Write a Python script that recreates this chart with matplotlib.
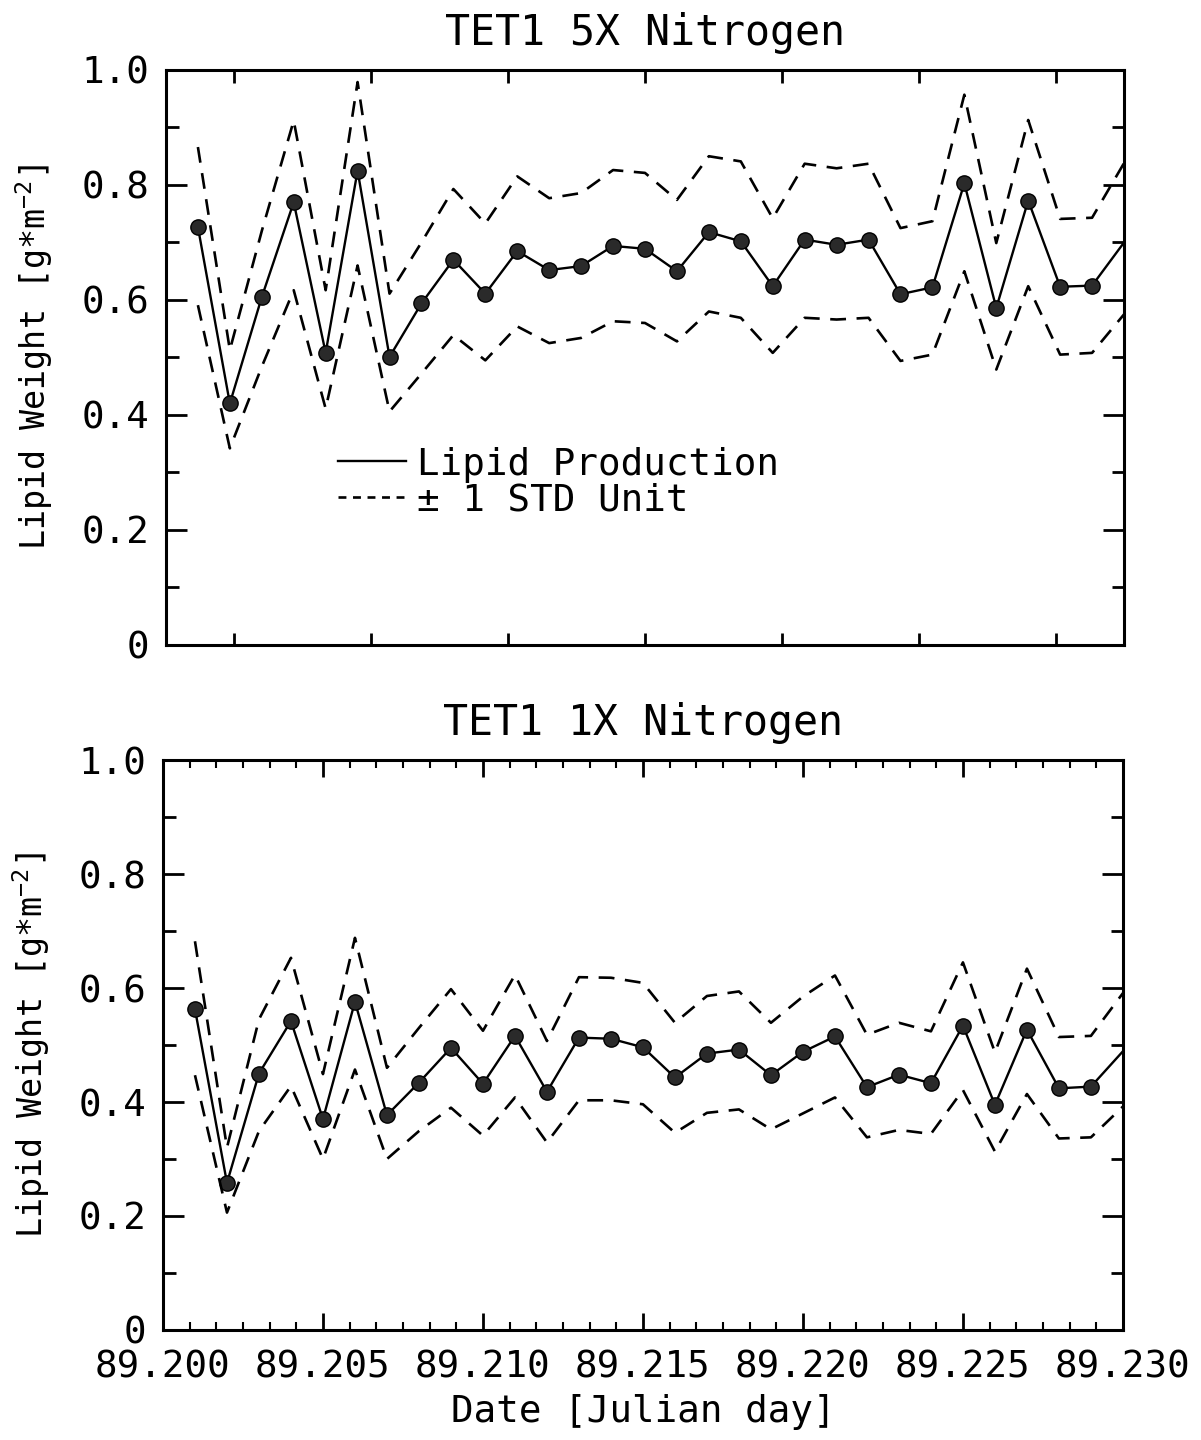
import numpy as np
import matplotlib.pyplot as plt
from matplotlib.lines import Line2D
from matplotlib.ticker import FixedLocator, MultipleLocator

plt.rcParams['font.family'] = ['DejaVu Sans Mono', 'DejaVu Sans']
plt.rcParams['mathtext.fontset'] = 'custom'
plt.rcParams['mathtext.rm'] = 'DejaVu Sans Mono'
plt.rcParams['mathtext.it'] = 'DejaVu Sans Mono'
plt.rcParams['mathtext.default'] = 'rm'

# дата (юлианский день)
day = [89.201, 89.202, 89.203, 89.204, 89.205, 89.206, 89.207, 89.208, 89.209, 89.210,
       89.211, 89.212, 89.213, 89.214, 89.215, 89.216, 89.217, 89.218, 89.219, 89.220,
       89.221, 89.222, 89.223, 89.224, 89.225, 89.226, 89.227, 89.228, 89.229, 89.230]

# TET1 5X
lip5 = [0.727, 0.420, 0.605, 0.770, 0.508, 0.825, 0.501, 0.594, 0.670, 0.611,
        0.685, 0.652, 0.659, 0.694, 0.689, 0.650, 0.718, 0.702, 0.624, 0.705,
        0.696, 0.705, 0.610, 0.622, 0.803, 0.586, 0.773, 0.623, 0.625, 0.700]
up5 = [0.866, 0.513, 0.720, 0.912, 0.617, 0.979, 0.611, 0.700, 0.793, 0.733,
       0.815, 0.777, 0.786, 0.826, 0.821, 0.774, 0.850, 0.841, 0.742, 0.837,
       0.829, 0.837, 0.725, 0.737, 0.957, 0.699, 0.913, 0.741, 0.743, 0.838]
lo5 = [0.591, 0.342, 0.484, 0.617, 0.411, 0.660, 0.406, 0.472, 0.539, 0.495,
       0.554, 0.525, 0.534, 0.563, 0.560, 0.528, 0.580, 0.569, 0.508, 0.569,
       0.566, 0.569, 0.494, 0.505, 0.650, 0.479, 0.624, 0.505, 0.508, 0.575]

# TET1 1X
lip1 = [0.563, 0.258, 0.450, 0.542, 0.370, 0.576, 0.377, 0.434, 0.495, 0.432,
        0.516, 0.418, 0.513, 0.511, 0.496, 0.443, 0.485, 0.492, 0.447, 0.488,
        0.515, 0.426, 0.448, 0.433, 0.534, 0.395, 0.527, 0.424, 0.427, 0.489]
up1 = [0.682, 0.320, 0.545, 0.653, 0.449, 0.688, 0.460, 0.530, 0.598, 0.525,
       0.623, 0.507, 0.619, 0.618, 0.609, 0.539, 0.586, 0.594, 0.539, 0.585,
       0.622, 0.518, 0.539, 0.524, 0.645, 0.487, 0.634, 0.514, 0.516, 0.591]
lo1 = [0.447, 0.206, 0.349, 0.428, 0.300, 0.457, 0.300, 0.349, 0.390, 0.341,
       0.408, 0.329, 0.403, 0.403, 0.396, 0.346, 0.381, 0.387, 0.352, 0.380,
       0.408, 0.338, 0.351, 0.344, 0.421, 0.313, 0.414, 0.336, 0.338, 0.392]

yticks = [0, 0.2, 0.4, 0.6, 0.8, 1.0]
ytick_labels = ['0', '0.2', '0.4', '0.6', '0.8', '1.0']
xticks = [89.200, 89.205, 89.210, 89.215, 89.220, 89.225, 89.230]
xtick_labels = ['89.200', '89.205', '89.210', '89.215', '89.220', '89.225', '89.230']

fig = plt.figure(figsize=(12.01, 14.4), dpi=100)
ax1 = fig.add_axes([0.1382, 0.5521, 0.7977, 0.3993])
ax2 = fig.add_axes([0.1357, 0.0764, 0.7993, 0.3958])

def panel(ax, lip, up, lo, title):
    ax.plot(day, lip, color='black', lw=1.7, marker='o', ms=11,
            mfc='#2a2a2a', mec='black', mew=1, markevery=list(range(29)))
    ax.plot(day, up, color='black', lw=1.9, dashes=(6, 4))
    ax.plot(day, lo, color='black', lw=1.9, dashes=(6, 4))
    ax.set_xlim(89.200, 89.230)
    ax.set_ylim(0, 1.0)
    ax.set_yticks(yticks)
    ax.set_yticklabels(ytick_labels)
    ax.yaxis.set_minor_locator(MultipleLocator(0.1))
    ax.tick_params(axis='y', which='major', direction='in', length=15, width=2,
                   labelsize=27, pad=12, left=True, right=True)
    ax.tick_params(axis='y', which='minor', direction='in', length=9, width=2,
                   left=True, right=True)
    for s in ax.spines.values():
        s.set_linewidth(2.2)
    ax.set_title(title, fontsize=30, pad=18)
    ax.set_ylabel('Lipid Weight [g*m$^{-2}$]', fontsize=24)
    ax.yaxis.set_label_coords(-0.116, 0.5)

panel(ax1, lip5, up5, lo5, 'TET1 5X Nitrogen')
panel(ax2, lip1, up1, lo1, 'TET1 1X Nitrogen')

# верхняя панель: 7 делений без подписей
top_ticks = 89.2 + (np.arange(7) + 0.5) * 0.03 / 7
ax1.xaxis.set_major_locator(FixedLocator(top_ticks))
ax1.tick_params(axis='x', which='major', direction='in', length=9, width=2,
                top=True, bottom=True, labelbottom=False)

ax2.set_xticks(xticks)
ax2.set_xticklabels(xtick_labels)
ax2.xaxis.set_minor_locator(MultipleLocator(0.005 / 6))
ax2.tick_params(axis='x', which='major', direction='in', length=12, width=2,
                top=True, bottom=True, labelsize=27, pad=14)
ax2.tick_params(axis='x', which='minor', direction='in', length=6, width=1.5,
                top=True, bottom=True)
ax2.set_xlabel('Date [Julian day]', fontsize=27, labelpad=6)

h1 = Line2D([], [], color='black', lw=1.7)
h2 = Line2D([], [], color='black', lw=1.9, dashes=(3, 2.5))
ax1.legend(handles=[h1, h2], labels=['Lipid Production', '± 1 STD Unit'],
           loc='upper left', bbox_to_anchor=(0.18, 0.345),
           frameon=False, fontsize=27, handlelength=1.8, handletextpad=0.3,
           labelspacing=0.0, borderpad=0, borderaxespad=0)

fig.savefig('out.png', dpi=100)
